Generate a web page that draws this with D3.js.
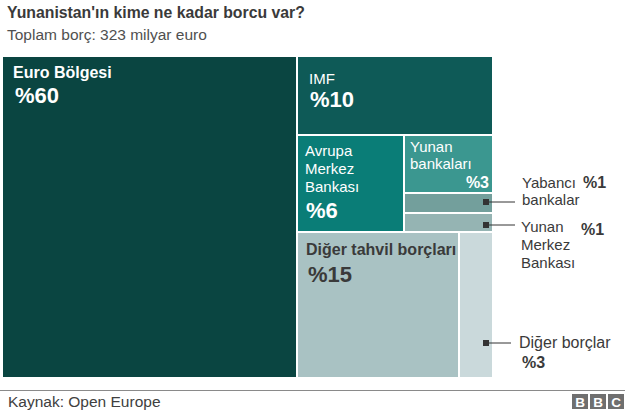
<!DOCTYPE html>
<html>
  <head>
    <meta charset="utf-8">
    <title>Yunanistan borç</title>
    <script src="https://cdn.jsdelivr.net/npm/d3@7/dist/d3.min.js"></script>
    <style>
      body { margin: 0; background: #fff; }
      text { font-family: "Liberation Sans", Arial, sans-serif; }
    </style>
  </head>
  <body>
    <svg width="625" height="412" id="mainsvg"></svg>
    <script>
      // data (sizes estimated from the drawn areas, labels as printed)
      const names = ['Euro Bölgesi', 'IMF', 'Avrupa Merkez Bankası', 'Yunan bankaları',
                     'Yabancı bankalar', 'Yunan Merkez Bankası', 'Diğer tahvil borçları', 'Diğer borçlar'];
      const sizes = [60.0, 9.8, 6.6, 3.3, 1.1, 1.1, 15.0, 3.1];
      const pctLabels = ['%60', '%10', '%6', '%3', '%1', '%1', '%15', '%3'];
      const colors = ['#0a4541', '#0e5a57', '#0a7d77', '#3b9790', '#739f9c', '#95b4b3', '#a9c2c3', '#cad9db'];

      const svg = d3.select('#mainsvg');
      const width = +svg.attr('width');
      const margin = {top: 57, left: 3};
      const innerWidth = 489, innerHeight = 320;

      // title
      svg.append('text').attr('x', 7).attr('y', 18)
        .attr('font-size', 15.8).attr('font-weight', 'bold').attr('fill', '#3a3a3a')
        .text("Yunanistan'ın kime ne kadar borcu var?");
      svg.append('text').attr('x', 7).attr('y', 40)
        .attr('font-size', 15.5).attr('fill', '#505050')
        .text('Toplam borç: 323 milyar euro');

      // nested groups, columns and rows alternate with depth
      const leaf = i => ({name: names[i], value: sizes[i], color: colors[i], idx: i});
      const tree = {children: [
        leaf(0),
        {children: [
          leaf(1),
          {children: [leaf(2), {children: [leaf(3), leaf(4), leaf(5)]}]},
          {children: [leaf(6), leaf(7)]}
        ]}
      ]};

      const root = d3.hierarchy(tree).sum(d => d.value || 0);
      d3.treemap()
        .tile(d3.treemapSliceDice)
        .size([innerWidth, innerHeight])
        .paddingInner(2)
        .round(true)(root);

      const g = svg.append('g').attr('transform', `translate(${margin.left}, ${margin.top})`);
      const leaves = root.leaves();
      g.selectAll('rect.cell').data(leaves).join('rect')
        .attr('class', 'cell')
        .attr('x', d => d.x0).attr('y', d => d.y0)
        .attr('width', d => d.x1 - d.x0).attr('height', d => d.y1 - d.y0)
        .attr('fill', d => d.data.color);

      const byIdx = i => leaves.find(d => d.data.idx === i);

      // one text element per line
      const label = (x, y, lines, opts) => {
        lines.forEach((s, k) => {
          g.append('text').attr('x', x).attr('y', y + k * (opts.lh || 18))
            .attr('font-size', opts.size || 15)
            .attr('font-weight', opts.bold ? 'bold' : 'normal')
            .attr('fill', opts.fill || '#fff')
            .attr('text-anchor', opts.anchor || 'start')
            .text(s);
        });
      };
      const dark = '#3a3a3a';

      // labels inside the cells
      let n = byIdx(0);
      label(n.x0 + 10, n.y0 + 21, ['Euro Bölgesi'], {bold: true, size: 16});
      label(n.x0 + 12, n.y0 + 46, [pctLabels[0]], {bold: true, size: 22});
      n = byIdx(1);
      label(n.x0 + 11, n.y0 + 27, ['IMF'], {});
      label(n.x0 + 12, n.y0 + 50, [pctLabels[1]], {bold: true, size: 22});
      n = byIdx(2);
      label(n.x0 + 7, n.y0 + 20, ['Avrupa', 'Merkez', 'Bankası'], {});
      label(n.x0 + 8, n.y0 + 82, [pctLabels[2]], {bold: true, size: 22});
      n = byIdx(3);
      label(n.x0 + 5, n.y0 + 16, ['Yunan', 'bankaları'], {lh: 17});
      label(n.x1 - 3, n.y0 + 52, [pctLabels[3]], {bold: true, size: 16, anchor: 'end'});
      n = byIdx(6);
      label(n.x0 + 8, n.y0 + 22, ['Diğer tahvil borçları'], {bold: true, size: 16, fill: dark});
      label(n.x0 + 10, n.y0 + 49, [pctLabels[6]], {bold: true, size: 22, fill: dark});

      // callouts for the small cells (y in page pixels)
      const callout = (i, cy, len) => {
        const c = byIdx(i);
        const y = cy - margin.top;
        g.append('rect').attr('x', c.x1 - 9).attr('y', y - 3).attr('width', 6).attr('height', 6).attr('fill', '#333');
        g.append('line').attr('x1', c.x1 - 3).attr('x2', c.x1 + len)
          .attr('y1', y).attr('y2', y).attr('stroke', '#333').attr('stroke-width', 1);
      };
      const tx = byIdx(4).x1;
      callout(4, 202, 23);
      label(tx + 30, 188 - margin.top, ['Yabancı', 'bankalar'], {fill: dark, lh: 17});
      label(tx + 91, 188 - margin.top, [pctLabels[4]], {bold: true, fill: dark, size: 16});
      callout(5, 225, 23);
      label(tx + 29, 232 - margin.top, ['Yunan', 'Merkez', 'Bankası'], {fill: dark, lh: 18});
      label(tx + 89, 235 - margin.top, [pctLabels[5]], {bold: true, fill: dark, size: 16});
      callout(7, 343, 19);
      label(tx + 27, 348 - margin.top, ['Diğer borçlar'], {fill: dark, size: 16});
      label(tx + 30, 368 - margin.top, [pctLabels[7]], {bold: true, fill: dark, size: 16});

      // footer
      svg.append('line').attr('x1', 0).attr('x2', width).attr('y1', 390.5).attr('y2', 390.5)
        .attr('stroke', '#8a8a8a').attr('stroke-width', 1);
      svg.append('text').attr('x', 8).attr('y', 407).attr('font-size', 15.5).attr('fill', '#404040')
        .text('Kaynak: Open Europe');
      ['B', 'B', 'C'].forEach((ch, k) => {
        const bx = 572 + k * 18;
        svg.append('rect').attr('x', bx).attr('y', 394).attr('width', 16).attr('height', 15).attr('fill', '#6f6f6f');
        svg.append('text').attr('x', bx + 8).attr('y', 406.5).attr('text-anchor', 'middle')
          .attr('font-size', 13.5).attr('font-weight', 'bold').attr('fill', '#fff').text(ch);
      });
    </script>
  </body>
</html>
